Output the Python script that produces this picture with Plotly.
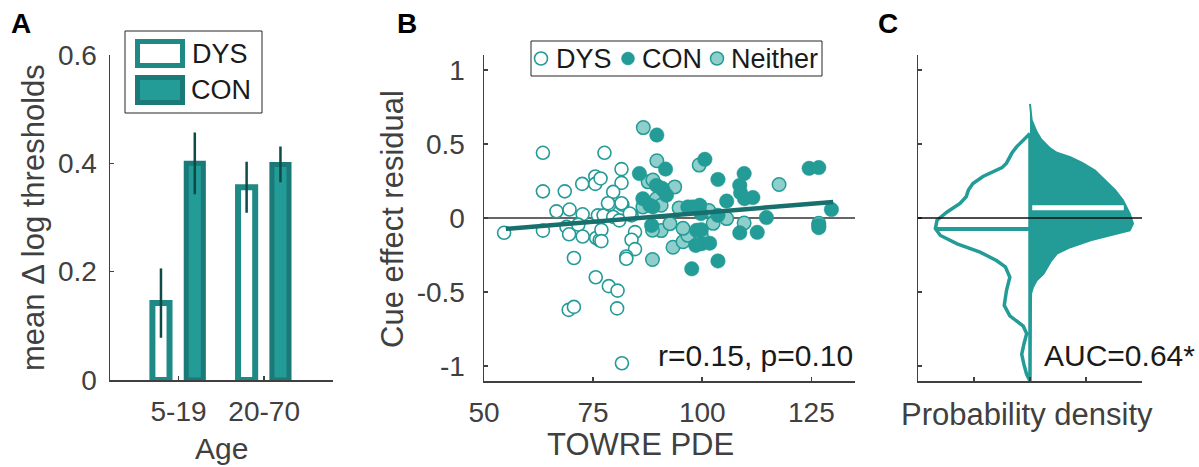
import numpy as np
import plotly.graph_objects as go

W, H = 1199, 467
def px(x): return x / W
def py(y): return 1 - y / H

TEAL = "#239b97"
TEAL_DARK = "#1b7a77"
TEAL_LIGHT = "#8fcfcb"
LINE_DARK = "#17706d"
ERR = "#0d4a48"
AX = "#404040"
TXT = "#1a1a1a"
FONT = "Liberation Sans, Arial, sans-serif"

# ---------------- Panel A data ----------------
age_groups = ["5-19", "20-70"]
age_pos = [1, 2]
dys_bar = [0.142, 0.356]
dys_err = [0.064, 0.047]
con_bar = [0.400, 0.398]
con_err = [0.057, 0.033]

# ---------------- Panel B data ----------------
dys_x = [54.6, 63.5, 77.6, 63.5, 68.5, 72.5, 75.5, 75.5, 66.6, 69.6, 72.6, 63.5, 68.9, 69.5,
         71.6, 72.6, 75.7, 76.5, 76.2, 70.6, 75.6, 78.6, 80.6, 69.4, 70.6, 80.5, 81.6, 76.1,
         77.4, 78.7, 81.7, 79.6, 81.0, 83.8, 84.6, 83.8, 84.6, 82.6, 82.6, 76.9, 76.9, 81.5,
         76.7, 81.5, 79.6, 78.4, 81.5, 83.4]
dys_y = [-0.10, 0.44, 0.44, 0.18, 0.18, 0.23, 0.28, 0.23, 0.045, 0.057, 0.025, -0.085, -0.06,
         -0.11, -0.045, -0.125, -0.135, -0.15, 0.007, -0.27, -0.40, -0.46, -0.49, -0.62, -0.60,
         -0.61, -0.98, 0.018, 0.018, 0.09, 0.09, 0.007, -0.016, 0.018, -0.095, -0.147, -0.21,
         -0.26, -0.275, -0.08, -0.156, 0.33, 0.267, 0.237, 0.176, 0.10, 0.10, 0.03]

con_x = [89.6, 91.6, 85.6, 89.5, 91.0, 91.8, 86.4, 88.7, 96.7, 99.4, 100.6, 103.6, 109.6, 108.6,
         108.8, 109.7, 111.6, 124.5, 126.7, 129.6, 126.7, 126.7, 105.6, 114.7, 108.6, 112.6,
         103.6, 99.7, 99.8, 99.8, 101.7, 98.5, 103.6, 97.6, 88.4, 88.0, 98.7, 97.9, 90.8]
con_y = [0.56, 0.33, 0.30, 0.22, 0.19, 0.154, 0.13, 0.075, 0.075, 0.086, 0.396, 0.26, 0.30, 0.22,
         0.17, 0.13, 0.138, 0.335, 0.34, 0.057, -0.05, -0.065, 0.114, 0.003, -0.10, -0.097,
         0.018, 0.03, -0.079, -0.174, -0.17, -0.185, -0.29, -0.343, -0.05, 0.086, -0.083, 0.075, 0.20]

nei_x = [86.5, 89.6, 99.3, 87.6, 88.7, 93.7, 89.5, 86.4, 90.6, 94.7, 117.6, 126.7, 109.6, 105.6,
         102.5, 99.5, 101.5, 99.8, 88.6, 90.6, 93.3, 92.6, 95.6, 96.7, 95.6, 88.6]
nei_y = [0.61, 0.386, 0.357, 0.244, 0.256, 0.21, 0.13, 0.075, 0.086, 0.068, 0.226, -0.035, -0.034,
         -0.004, -0.036, 0.08, 0.05, -0.117, -0.28, -0.085, -0.197, -0.038, -0.16, -0.117, -0.07, -0.083]

fit_x = [55, 130]
fit_y = [-0.073, 0.108]
stats_text = "r=0.15, p=0.10"

# ---------------- Panel C data ----------------
dens_con_y = [0.77, 0.66, 0.58, 0.53, 0.47, 0.44, 0.41, 0.37, 0.32, 0.256, 0.188, 0.12, 0.03, -0.038,
              -0.083, -0.106, -0.15, -0.197, -0.24, -0.287, -0.33, -0.377, -0.42, -0.47, -0.51,
              -0.7, -0.9, -1.1]
dens_con = [0.0, 0.015, 0.06, 0.10, 0.18, 0.24, 0.36, 0.47, 0.58, 0.67, 0.76, 0.83, 0.89, 0.92,
            0.89, 0.77, 0.54, 0.36, 0.24, 0.19, 0.16, 0.12, 0.06, 0.025, 0.01, 0.005, 0.003, 0.0]
dens_dys_y = [0.57, 0.48, 0.44, 0.37, 0.34, 0.28, 0.233, 0.188, 0.143, 0.098, 0.041, -0.015, -0.072,
              -0.118, -0.174, -0.23, -0.287, -0.33, -0.40, -0.49, -0.59, -0.66, -0.73, -0.78, -0.85,
              -0.92, -0.99, -1.055, -1.1]
dens_dys = [0.0, 0.12, 0.16, 0.21, 0.25, 0.42, 0.51, 0.55, 0.57, 0.625, 0.74, 0.83, 0.845, 0.80,
            0.65, 0.446, 0.30, 0.22, 0.18, 0.21, 0.23, 0.18, 0.06, 0.03, 0.054, 0.074, 0.054, 0.03, 0.0]
dys_center = -0.075
con_center = 0.07
auc_text = "AUC=0.64*"

fig = go.Figure()

# ---- Panel A bars ----
fig.add_trace(go.Bar(
    x=age_pos, y=dys_bar, width=0.2, offset=-0.305,
    marker=dict(color="white", line=dict(color="#1f8985", width=6)),
    error_y=dict(type="data", array=dys_err, color=ERR, thickness=2.5, width=0),
    cliponaxis=False, xaxis="x", yaxis="y", showlegend=False))
fig.add_trace(go.Bar(
    x=age_pos, y=con_bar, width=0.2, offset=0.09,
    marker=dict(color=TEAL, line=dict(color=TEAL_DARK, width=5)),
    error_y=dict(type="data", array=con_err, color=ERR, thickness=2.5, width=0),
    cliponaxis=False, xaxis="x", yaxis="y", showlegend=False))

# ---- Panel B scatter ----
fig.add_trace(go.Scatter(
    x=dys_x, y=dys_y, mode="markers", xaxis="x2", yaxis="y2", showlegend=False,
    marker=dict(size=13, color="white", line=dict(color=TEAL, width=1.6))))
fig.add_trace(go.Scatter(
    x=nei_x, y=nei_y, mode="markers", xaxis="x2", yaxis="y2", showlegend=False,
    marker=dict(size=13.5, color=TEAL_LIGHT, line=dict(color=TEAL, width=1.5))))
fig.add_trace(go.Scatter(
    x=con_x, y=con_y, mode="markers", xaxis="x2", yaxis="y2", showlegend=False,
    marker=dict(size=14.5, color=TEAL, line=dict(color=TEAL, width=0.5))))
fig.add_trace(go.Scatter(
    x=fit_x, y=fit_y, mode="lines", xaxis="x2", yaxis="y2", showlegend=False,
    line=dict(color=LINE_DARK, width=4.5)))

# ---- Panel C densities ----
fig.add_trace(go.Scatter(
    x=dens_con, y=dens_con_y, mode="lines", fill="tozerox", fillcolor=TEAL,
    line=dict(color=TEAL, width=2), xaxis="x3", yaxis="y3", showlegend=False))
dys_px = [-d for d in dens_dys] + [0]
dys_py = list(dens_dys_y) + [dens_dys_y[0]]
fig.add_trace(go.Scatter(
    x=dys_px, y=dys_py, mode="lines", line=dict(color=TEAL, width=3.5),
    xaxis="x3", yaxis="y3", showlegend=False))
dys_w = float(np.interp(dys_center, dens_dys_y[::-1], dens_dys[::-1]))
con_w = float(np.interp(con_center, dens_con_y[::-1], dens_con[::-1]))
fig.add_trace(go.Scatter(
    x=[-dys_w, 0], y=[dys_center, dys_center], mode="lines",
    line=dict(color=TEAL, width=4), xaxis="x3", yaxis="y3", showlegend=False))
fig.add_trace(go.Scatter(
    x=[0.02, con_w * 0.97], y=[con_center, con_center], mode="lines",
    line=dict(color="white", width=5), xaxis="x3", yaxis="y3", showlegend=False))

axis_common = dict(showline=True, linecolor=AX, linewidth=1.5, ticks="inside", ticklen=4,
                   tickcolor=AX, tickwidth=1.5, showgrid=False, zeroline=False, automargin=False,
                   tickfont=dict(family=FONT, size=28, color=AX))

fig.update_layout(
    width=W, height=H, autosize=False,
    margin=dict(l=0, r=0, t=0, b=0, pad=0, autoexpand=False),
    paper_bgcolor="white", plot_bgcolor="white",
    font=dict(family=FONT, color=AX),
    xaxis=dict(domain=[px(110), px(332.7)], range=[0.2, 2.8], tickvals=age_pos, ticktext=age_groups,
               anchor="y", ticklabelstandoff=6, **axis_common),
    yaxis=dict(domain=[py(380), py(55)], range=[0, 0.6], tickvals=[0, 0.2, 0.4, 0.6],
               ticktext=["0", "0.2", "0.4", "0.6"], anchor="x", ticklabelstandoff=6, **axis_common),
    xaxis2=dict(domain=[px(484), px(855)], range=[50, 135], tickvals=[50, 75, 100, 125],
                ticktext=["50", "75", "100", "125"], anchor="y2", ticklabelstandoff=6, **axis_common),
    yaxis2=dict(domain=[py(381), py(55)], range=[-1.1, 1.1], tickvals=[-1, -0.5, 0, 0.5, 1],
                ticktext=["-1", "-0.5", "0", "0.5", "1"], anchor="x2", ticklabelstandoff=12, **axis_common),
    xaxis3=dict(domain=[px(918), px(1142)], range=[-1, 1], tickvals=[-1, -0.5, 0, 0.5, 1],
                showticklabels=False, anchor="y3", **axis_common),
    yaxis3=dict(domain=[py(381), py(55)], range=[-1.1, 1.1], tickvals=[-1, -0.5, 0, 0.5, 1],
                showticklabels=False, anchor="x3", **axis_common),
)

shapes = []
shapes.append(dict(type="line", xref="x2", yref="y2", x0=50, x1=135, y0=0, y1=0,
                   line=dict(color="#333333", width=1.5), layer="below"))
shapes.append(dict(type="line", xref="x3", yref="y3", x0=-1, x1=1, y0=0, y1=0,
                   line=dict(color="#111111", width=1.5), layer="above"))
# legend A
shapes.append(dict(type="rect", xref="paper", yref="paper", x0=px(125), x1=px(262), y0=py(113), y1=py(31),
                   line=dict(color="#262626", width=1), fillcolor="white"))
shapes.append(dict(type="rect", xref="paper", yref="paper", x0=px(137.5), x1=px(182.5), y0=py(65.5), y1=py(41.5),
                   line=dict(color="#1f8985", width=5), fillcolor="white"))
shapes.append(dict(type="rect", xref="paper", yref="paper", x0=px(137.5), x1=px(182.5), y0=py(102.5), y1=py(77.5),
                   line=dict(color=TEAL_DARK, width=5), fillcolor=TEAL))
# legend B
shapes.append(dict(type="rect", xref="paper", yref="paper", x0=px(531), x1=px(822), y0=py(76), y1=py(41),
                   line=dict(color="#262626", width=1), fillcolor="white"))
r = 6.5
for cx, fc, lw in [(541, "white", 1.6), (628, TEAL, 0.5), (717, TEAL_LIGHT, 1.5)]:
    shapes.append(dict(type="circle", xref="paper", yref="paper", x0=px(cx - r), x1=px(cx + r),
                       y0=py(58.5 + r), y1=py(58.5 - r), line=dict(color=TEAL, width=lw), fillcolor=fc))
fig.update_layout(shapes=shapes)

ann = []
def A(text, x, y, size, color=AX, angle=0, xanchor="center", bold=False):
    ann.append(dict(text=("<b>%s</b>" % text) if bold else text, x=px(x), y=py(y), xref="paper", yref="paper",
                    showarrow=False, textangle=angle, xanchor=xanchor, yanchor="middle",
                    font=dict(family=FONT, size=size, color=color)))

A("mean \u0394 log thresholds", 33, 218, 31, angle=-90)
A("Age", 221, 448, 30)
A("Cue effect residual", 392, 219, 31, angle=-90)
A("TOWRE PDE", 640, 444, 31)
A("Probability density", 1027, 414, 31)
A(stats_text, 855, 355, 30, color=TXT, xanchor="right")
A(auc_text, 1042, 355, 30, color=TXT, xanchor="left")
A("A", 21, 23, 28, color="black", bold=True)
A("B", 407, 23, 28, color="black", bold=True)
A("C", 888, 23, 28, color="black", bold=True)
A("DYS", 190, 54, 27, color=TXT, xanchor="left")
A("CON", 189, 90, 27, color=TXT, xanchor="left")
A("DYS", 554, 58.5, 27, color=TXT, xanchor="left")
A("CON", 640, 58.5, 27, color=TXT, xanchor="left")
A("Neither", 729, 58.5, 27, color=TXT, xanchor="left")
fig.update_layout(annotations=ann)

ps = ("var h=document.documentElement,b=document.body;"
      "h.style.margin='0';h.style.padding='0';h.style.overflow='hidden';"
      "b.style.margin='0';b.style.padding='0';b.style.overflow='hidden';")
fig.write_html("out.html", config={"displayModeBar": False, "staticPlot": True}, post_script=ps)
